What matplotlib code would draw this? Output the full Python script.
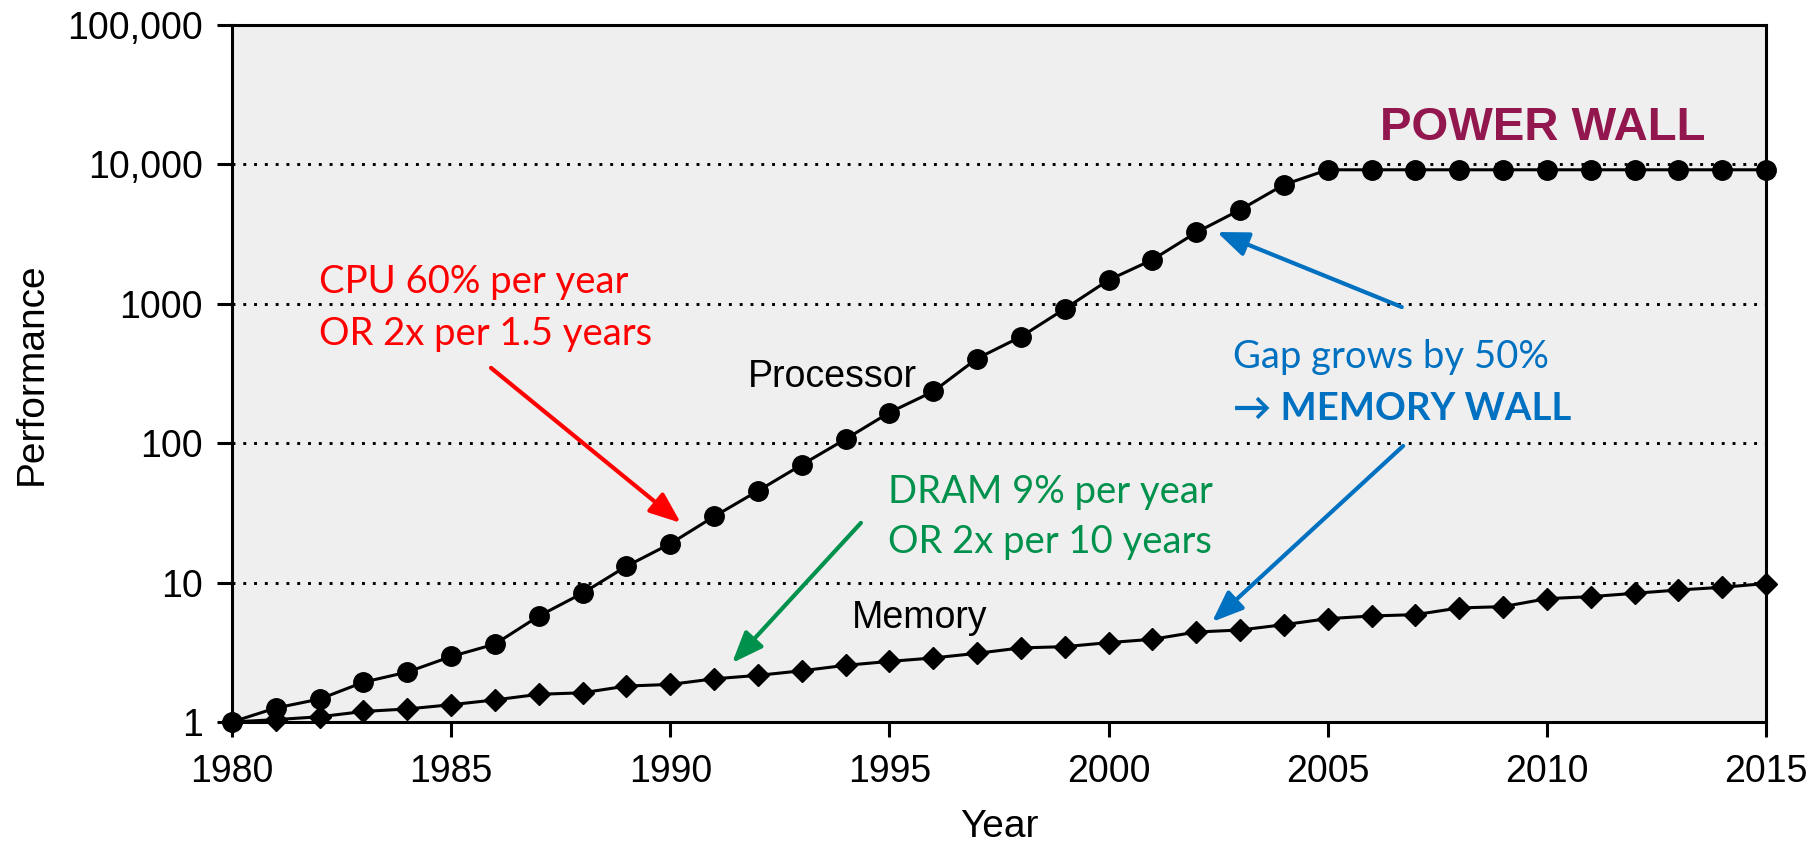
"""Processor vs memory performance gap, 1980-2015 (log scale)."""

import matplotlib

matplotlib.use("Agg")
import matplotlib.pyplot as plt

years = list(range(1980, 2016))

# performance relative to 1980
processor = [
    1.0, 1.26, 1.46, 1.93, 2.28, 2.95, 3.62, 5.75, 8.4, 13.1,
    19.0, 29.8, 45.5, 70.0, 107, 166, 235, 405, 580, 920,
    1480, 2070, 3250, 4720, 7150, 9150, 9150, 9150, 9150, 9150,
    9150, 9150, 9150, 9150, 9150, 9150,
]
memory = [
    1.0, 1.04, 1.09, 1.19, 1.24, 1.33, 1.44, 1.58, 1.62, 1.81,
    1.86, 2.04, 2.16, 2.33, 2.55, 2.72, 2.88, 3.11, 3.40, 3.47,
    3.71, 3.92, 4.42, 4.57, 4.99, 5.51, 5.76, 5.89, 6.58, 6.72,
    7.67, 7.93, 8.38, 8.85, 9.25, 9.85,
]

y_ticks = [1, 10, 100, 1000, 10000, 100000]
y_tick_labels = ["1", "10", "100", "1000", "10,000", "100,000"]
x_ticks = [1980, 1985, 1990, 1995, 2000, 2005, 2010, 2015]
grid_levels = [10, 100, 1000, 10000]

RED = "#ff0000"
GREEN = "#00914c"
BLUE = "#0070c0"
WALL = "#93174f"
NOTE_FONT = ["Lato", "DejaVu Sans"]
NOTE_SIZE = 27.5

plt.rcParams["font.family"] = ["Liberation Sans", "DejaVu Sans"]

fig = plt.figure(figsize=(18.18, 8.48), dpi=100)
ax = fig.add_axes([0.1276, 0.1486, 0.8438, 0.8219])
ax.set_facecolor("#efefef")

ax.set_yscale("log")
ax.set_xlim(1980, 2015)
ax.set_ylim(1, 100000)

# dotted reference lines at each decade
for level in grid_levels:
    ax.axhline(level, color="black", lw=2.1, linestyle=(0, (1, 2.7)), zorder=1)

ax.plot(years, processor, color="black", lw=2.2, marker="o", ms=14,
        zorder=3, clip_on=False)
ax.plot(years, memory, color="black", lw=2.2, marker="D", ms=11.3,
        zorder=3, clip_on=False)

ax.set_yticks(y_ticks)
ax.set_yticklabels(y_tick_labels)
ax.yaxis.set_minor_locator(matplotlib.ticker.NullLocator())
ax.set_xticks(x_ticks)
ax.tick_params(axis="both", direction="out", length=10.8, width=2.2,
               labelsize=27)
ax.tick_params(axis="y", pad=10)
ax.tick_params(axis="x", pad=12)
for spine in ax.spines.values():
    spine.set_linewidth(2.2)

ax.set_xlabel("Year", fontsize=28, labelpad=14)
ax.set_ylabel("Performance", fontsize=28, labelpad=13)

# series labels
ax.text(1991.77, 253, "Processor", fontsize=27, va="baseline", ha="left")
ax.text(1994.15, 4.72, "Memory", fontsize=27, va="baseline", ha="left")

# growth notes, one text per line so the baselines stay put
notes = [
    (1981.98, 1195, "CPU 60% per year", RED, "normal"),
    (1981.98, 506, "OR 2x per 1.5 years", RED, "normal"),
    (1994.97, 37.2, "DRAM 9% per year", GREEN, "normal"),
    (1994.97, 16.3, "OR 2x per 10 years", GREEN, "normal"),
    (2002.84, 346, "Gap grows by 50%", BLUE, "normal"),
    (2002.84, 147, "\u2192 MEMORY WALL", BLUE, "bold"),
]
for x, y, label, color, weight in notes:
    ax.text(x, y, label, color=color, fontsize=NOTE_SIZE, family=NOTE_FONT,
            fontweight=weight, va="baseline", ha="left")

ax.text(2009.91, 14960, "POWER WALL", color=WALL, fontsize=34,
        fontweight="bold", va="baseline", ha="center")


def arrow(start, tip, color):
    """Straight arrow with a filled head from start to tip (data coords)."""
    ax.annotate(
        "", xy=tip, xytext=start,
        arrowprops=dict(arrowstyle="-|>,head_length=1.9,head_width=0.75",
                        color=color, lw=3, shrinkA=0, shrinkB=0,
                        mutation_scale=10),
        zorder=4,
    )


arrow((1985.91, 347), (1990.24, 26.8), RED)
arrow((1994.35, 26.8), (1991.41, 2.65), GREEN)
arrow((2006.69, 948), (2002.47, 3273), BLUE)
arrow((2006.72, 95.5), (2002.36, 5.22), BLUE)

fig.savefig("out.png", dpi=100)
